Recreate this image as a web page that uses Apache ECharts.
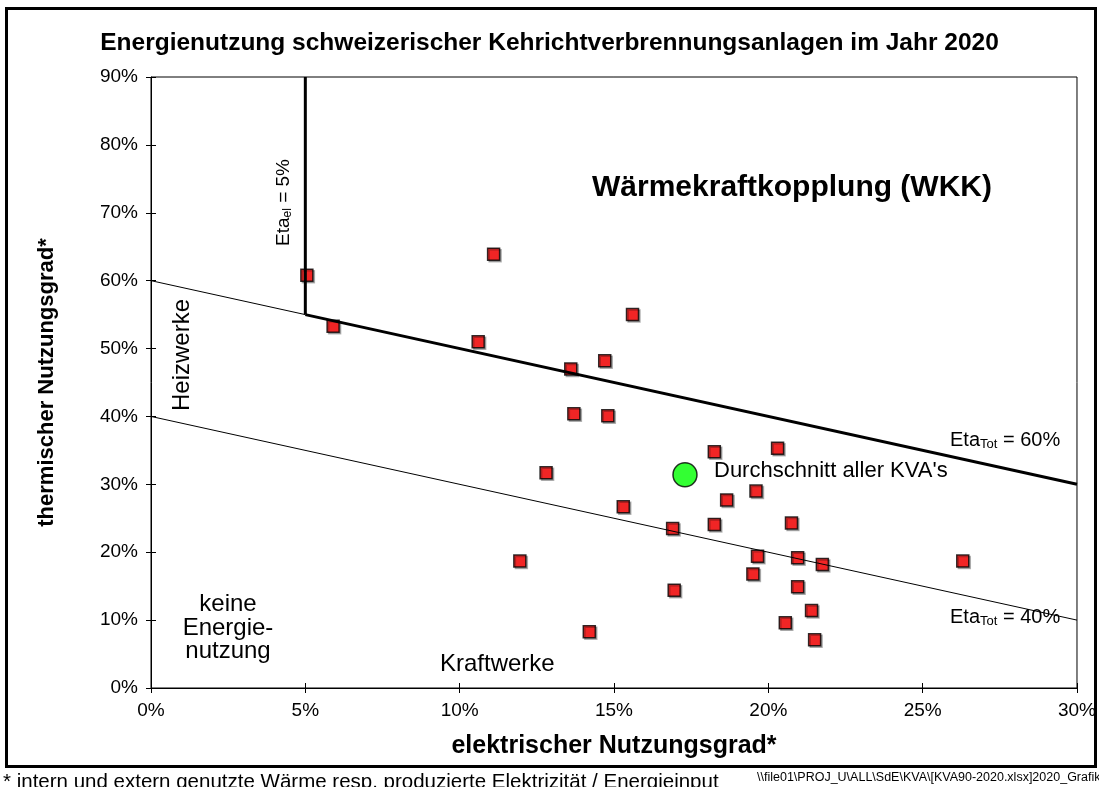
<!DOCTYPE html>
<html>
<head>
<meta charset="utf-8">
<script src="https://cdn.jsdelivr.net/npm/echarts@6/dist/echarts.min.js"></script>
<style>
  html, body { margin: 0; padding: 0; background: #fff; }
  #chart { width: 1099px; height: 787px; }
</style>
</head>
<body>
<div id="chart"></div>
<script>
// elektrischer / thermischer Nutzungsgrad je KVA (in %)
const elektrisch = [5.05, 5.9, 11.1, 10.6, 15.6, 14.7, 13.6, 13.7, 14.8, 12.8,
  18.25, 20.3, 18.65, 19.6, 15.3, 16.9, 18.25, 20.75, 19.65, 20.95,
  21.75, 11.95, 26.3, 19.5, 20.95, 16.95, 21.4, 20.55, 21.5, 14.2];
const thermisch = [60.8, 53.3, 63.9, 51.0, 55.0, 48.2, 47.0, 40.4, 40.1, 31.7,
  34.8, 35.3, 27.7, 29.0, 26.7, 23.5, 24.1, 24.3, 19.4, 19.2,
  18.2, 18.7, 18.7, 16.8, 14.9, 14.4, 11.4, 9.6, 7.1, 8.3];
const durchschnitt = [17.3, 31.4];

// Grenzlinien
const etaTot60Thin = [[0, 60], [5, 55]];
const etaTot60 = [[5, 55], [30, 30]];
const etaEl5 = [[5, 55], [5, 90]];
const etaTot40 = [[0, 40], [30, 10]];

const xTicks = { min: 0, max: 30, interval: 5 };
const yTicks = { min: 0, max: 90, interval: 10 };

const FONT = 'Liberation Sans, Arial, sans-serif';

const chart = echarts.init(document.getElementById('chart'));

const pct = (v) => v + '%';

const subRich = {
  n: { fontSize: 20, fontFamily: FONT, fill: '#000' },
  s: { fontSize: 13, fontFamily: FONT, fill: '#000', padding: [9, 0, 0, 0] }
};

const option = {
  animation: false,
  textStyle: { fontFamily: FONT },
  title: {
    text: 'Energienutzung schweizerischer Kehrichtverbrennungsanlagen im Jahr 2020',
    left: 'center',
    top: 26,
    textStyle: { fontFamily: FONT, fontSize: 24.5, fontWeight: 'bold', color: '#000' }
  },
  grid: {
    left: 151, right: 21, top: 77, bottom: 99,
    show: true, borderColor: '#000', borderWidth: 1
  },
  xAxis: [
    {
      type: 'value', ...xTicks,
      name: 'elektrischer Nutzungsgrad*',
      nameLocation: 'middle', nameGap: 46,
      nameTextStyle: { fontSize: 25, fontWeight: 'bold', color: '#000', fontFamily: FONT },
      axisLine: { lineStyle: { color: '#000', width: 1 } },
      axisTick: { show: true, inside: false, length: 5, lineStyle: { color: '#000' } },
      axisLabel: { formatter: pct, fontSize: 19, color: '#000', margin: 13, fontFamily: FONT },
      splitLine: { show: false }
    },
    {
      type: 'value', ...xTicks, position: 'bottom',
      axisLine: { show: false },
      axisTick: { show: true, inside: true, length: 5, lineStyle: { color: '#000' } },
      axisLabel: { show: false },
      splitLine: { show: false }
    }
  ],
  yAxis: [
    {
      type: 'value', ...yTicks,
      name: 'thermischer Nutzungsgrad*',
      nameLocation: 'middle', nameGap: 93, nameRotate: 90,
      nameTextStyle: { fontSize: 22, fontWeight: 'bold', color: '#000', fontFamily: FONT },
      axisLine: { show: true, lineStyle: { color: '#000', width: 1 } },
      axisTick: { show: true, inside: false, length: 5, lineStyle: { color: '#000' } },
      axisLabel: { formatter: pct, fontSize: 19, color: '#000', margin: 13, fontFamily: FONT },
      splitLine: { show: false }
    },
    {
      type: 'value', ...yTicks, position: 'left',
      axisLine: { show: false },
      axisTick: { show: true, inside: true, length: 5, lineStyle: { color: '#000' } },
      axisLabel: { show: false },
      splitLine: { show: false }
    }
  ],
  series: [
    {
      type: 'scatter',
      data: elektrisch.map((x, i) => [x, thermisch[i]]),
      symbol: 'rect',
      symbolSize: 12,
      itemStyle: {
        color: '#ff0000', borderColor: '#000', borderWidth: 1.5,
        shadowColor: 'rgba(0,0,0,0.35)', shadowOffsetX: 1.5, shadowOffsetY: 1.5, shadowBlur: 0
      },
      z: 2
    },
    {
      type: 'scatter',
      data: [durchschnitt],
      symbol: 'circle',
      symbolSize: 24,
      itemStyle: { color: '#00ff00', borderColor: '#000', borderWidth: 1.5 },
      z: 2
    },
    {
      type: 'line', data: etaTot60Thin, showSymbol: false, symbol: 'none',
      lineStyle: { color: '#000', width: 1 }, z: 3
    },
    {
      type: 'line', data: etaTot40, showSymbol: false, symbol: 'none',
      lineStyle: { color: '#000', width: 1 }, z: 3
    },
    {
      type: 'line', data: etaTot60, showSymbol: false, symbol: 'none',
      lineStyle: { color: '#000', width: 3 }, z: 3
    },
    {
      type: 'line', data: etaEl5, showSymbol: false, symbol: 'none',
      lineStyle: { color: '#000', width: 3 }, z: 3
    }
  ],
  graphic: [
    // Rahmen
    {
      type: 'rect', shape: { x: 6.5, y: 8.5, width: 1089, height: 758 },
      style: { fill: null, stroke: '#000', lineWidth: 3 }, z: 100
    },
    {
      type: 'text', left: 592, top: 173,
      style: { text: 'Wärmekraftkopplung (WKK)', font: 'bold 30px ' + FONT, fill: '#000' }
    },
    {
      type: 'text', x: 273, y: 246, rotation: Math.PI / 2,
      style: {
        text: '{n|Eta}{s|el}{n| = 5%}', fill: '#000',
        rich: {
          n: { fontSize: 19, fontFamily: FONT, fill: '#000' },
          s: { fontSize: 12, fontFamily: FONT, fill: '#000', padding: [9, 0, 0, 0] }
        }
      }
    },
    {
      type: 'text', x: 170, y: 411, rotation: Math.PI / 2,
      style: { text: 'Heizwerke', font: '24px ' + FONT, fill: '#000' }
    },
    {
      type: 'text', left: 714, top: 460,
      style: { text: "Durchschnitt aller KVA's", font: '22px ' + FONT, fill: '#000' }
    },
    {
      type: 'text', left: 950, top: 430,
      style: { text: '{n|Eta}{s|Tot}{n| = 60%}', rich: subRich }
    },
    {
      type: 'text', left: 950, top: 607,
      style: { text: '{n|Eta}{s|Tot}{n| = 40%}', rich: subRich }
    },
    {
      type: 'text', x: 228, y: 593,
      style: {
        text: 'keine\nEnergie-\nnutzung', font: '24px ' + FONT, fill: '#000',
        align: 'center', lineHeight: 23.5
      }
    },
    {
      type: 'text', left: 440, top: 652,
      style: { text: 'Kraftwerke', font: '24px ' + FONT, fill: '#000' }
    },
    {
      type: 'text', left: 3, top: 772,
      style: {
        text: '* intern und extern genutzte Wärme resp. produzierte Elektrizität / Energieinput',
        font: '20.5px ' + FONT, fill: '#000'
      }
    },
    {
      type: 'text', left: 757, top: 771,
      style: {
        text: '\\\\file01\\PROJ_U\\ALL\\SdE\\KVA\\[KVA90-2020.xlsx]2020_Grafik1',
        font: '12.5px ' + FONT, fill: '#000'
      }
    }
  ]
};

chart.setOption(option);
</script>
</body>
</html>
